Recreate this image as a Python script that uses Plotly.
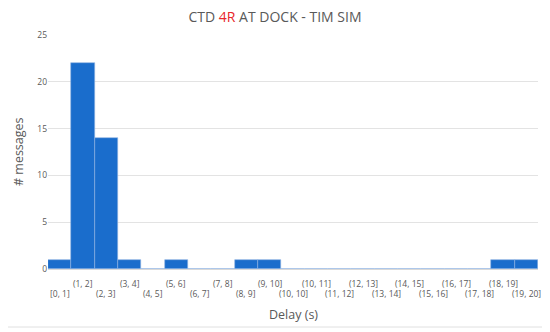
import plotly.graph_objects as go

categories = ["[0, 1]", "(1, 2]", "(2, 3]", "(3, 4]", "(4, 5]", "(5, 6]", "(6, 7]",
              "(7, 8]", "(8, 9]", "(9, 10]", "(10, 10]", "(10, 11]", "(11, 12]",
              "(12, 13]", "(13, 14]", "(14, 15]", "(15, 16]", "(16, 17]", "(17, 18]",
              "(18, 19]", "(19, 20]"]
counts = [1, 22, 14, 1, 0, 1, 0, 0, 1, 1, 0, 0, 0, 0, 0, 0, 0, 0, 0, 1, 1]
y_ticks = [0, 5, 10, 15, 20, 25]

OFF = 8  # page body margin
W, H = 550 - OFF, 332 - OFF
ml, mr, mt, mb = 48 - OFF, 12, 35 - OFF, 63
pw, ph = W - ml - mr, H - mt - mb
font = "Open Sans"
gray = "#595959"

fig = go.Figure(go.Bar(
    x=categories, y=counts, width=1.0,
    marker=dict(color="#1a6dcc", line=dict(color="#8fb4e3", width=0.6)),
))

annotations = []
for i, c in enumerate(categories):
    upper = (i % 2 == 1)
    off = -14 if upper else -24
    annotations.append(dict(
        x=c, xref="x", y=off / ph, yref="paper",
        text=c, showarrow=False, font=dict(family=font, size=8.5, color=gray),
        xanchor="center", yanchor="middle",
    ))
# axis titles
annotations.append(dict(
    x=0.5, xref="paper", y=-45 / ph, yref="paper", text="Delay (s)", showarrow=False,
    font=dict(family=font, size=12.5, color=gray), xanchor="center", yanchor="middle"))
annotations.append(dict(
    x=(10 - ml) / pw, xref="paper", y=0.5, yref="paper", text="# messages", showarrow=False,
    textangle=-90, font=dict(family=font, size=12.5, color=gray),
    xanchor="center", yanchor="middle"))

fig.update_layout(
    width=W, height=H,
    margin=dict(l=ml, r=mr, t=mt, b=mb),
    paper_bgcolor="white", plot_bgcolor="white",
    title=dict(text="CTD <span style='color:#e8262b'>4R</span> AT DOCK - TIM SIM",
               x=(275 - OFF) / W, xanchor="center", y=1 - (17 - OFF) / H, yanchor="middle",
               font=dict(family=font, size=14, color=gray)),
    bargap=0,
    showlegend=False,
    xaxis=dict(type="category", showticklabels=False, ticks="", automargin=False,
               showline=True, linecolor="#d9d9d9", linewidth=1,
               range=[-0.5, len(categories) - 0.5]),
    yaxis=dict(range=[0, 25], tickvals=y_ticks, showgrid=True, gridcolor="#e3e3e3",
               gridwidth=1, zeroline=False, ticks="", showline=False, automargin=False,
               tickfont=dict(family=font, size=8.5, color=gray)),
    annotations=annotations,
    shapes=[dict(type="rect", xref="paper", yref="paper",
                 x0=(3 - 48) / pw, x1=(546 - 48) / pw,
                 y0=(269 - 327) / ph, y1=(269 - 3) / ph,
                 line=dict(color="#e0e0e0", width=1), layer="below")],
)

fig.write_html("out.html")
